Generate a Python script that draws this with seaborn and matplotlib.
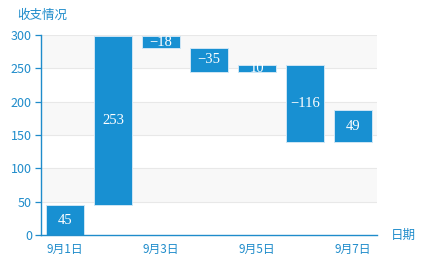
import matplotlib
matplotlib.use("Agg")
import matplotlib.pyplot as plt
import seaborn as sns
import numpy as np
import pandas as pd

categories = ["9月1日", "9月2日", "9月3日", "9月4日", "9月5日", "9月6日", "9月7日"]
values = [45, 253, -18, -35, 10, -116, 49]
y_ticks = [0, 50, 100, 150, 200, 250, 300]
title = "收支情况"
x_name = "日期"

sns.set_theme(style="white")
plt.rcParams['font.family'] = ['Noto Sans CJK SC', 'DejaVu Sans']

ends = np.cumsum(values)
starts = np.concatenate([[0], ends[:-1]])
bottoms = np.minimum(starts, ends)
heights = np.abs(values)

df = pd.DataFrame({"cat": categories, "h": heights, "b": bottoms, "v": values})

W, H = 425, 268
fig = plt.figure(figsize=(W / 100, H / 100), dpi=100)
ax = fig.add_axes([41 / W, 1 - 235 / H, (377 - 41) / W, 200 / H])

blue = "#1890d2"
axis_c = "#1f8ccb"

# split area bands and grid lines
for i in range(len(y_ticks) - 1):
    if (len(y_ticks) - 2 - i) % 2 == 0:
        ax.axhspan(y_ticks[i], y_ticks[i + 1], color="#f8f8f8", zorder=0, lw=0)
for t in y_ticks[1:]:
    ax.axhline(t, color="#e8e8e8", lw=0.8, zorder=0.5)

sns.barplot(data=df, x="cat", y="h", bottom=df["b"].values, color=blue,
            saturation=1, width=0.8, edgecolor="#cfe6f5", linewidth=0.7,
            ax=ax, zorder=2)

for i, (b, h, v) in enumerate(zip(bottoms, heights, values)):
    ax.text(i, b + h / 2, str(v).replace("-", "\u2212"), color="white",
            ha="center", va="center", fontsize=10.5, family="Liberation Serif", zorder=3)

ax.set_xlim(-0.5, len(categories) - 0.5)
ax.set_ylim(y_ticks[0], y_ticks[-1])
ax.set_yticks(y_ticks)
ax.set_yticklabels([str(t) for t in y_ticks])
ax.set_xticks(range(0, len(categories), 2))
ax.set_xticklabels(categories[::2])
ax.set_xticks([i + 0.5 for i in range(0, len(categories) - 1, 2)], minor=True)
ax.tick_params(axis="x", which="major", length=0, pad=6, labelsize=8.5, labelcolor=axis_c)
ax.tick_params(axis="x", which="minor", length=4.5, width=0.9, color=axis_c, direction="out")
ax.tick_params(axis="y", length=4.5, width=0.9, color=axis_c, labelsize=9,
               labelcolor=axis_c, pad=2, left=True)
ax.set_xlabel("")
ax.set_ylabel("")
for s in ["top", "right"]:
    ax.spines[s].set_visible(False)
for s in ["left", "bottom"]:
    ax.spines[s].set_color(axis_c)
    ax.spines[s].set_linewidth(1.0)

fig.text(17 / W, 1 - 15 / H, title, color=axis_c, fontsize=9, va="center", ha="left")
fig.text(391 / W, 1 - 235 / H, x_name, color=axis_c, fontsize=9, va="center", ha="left")

fig.savefig("out.png", dpi=100, facecolor="white")
